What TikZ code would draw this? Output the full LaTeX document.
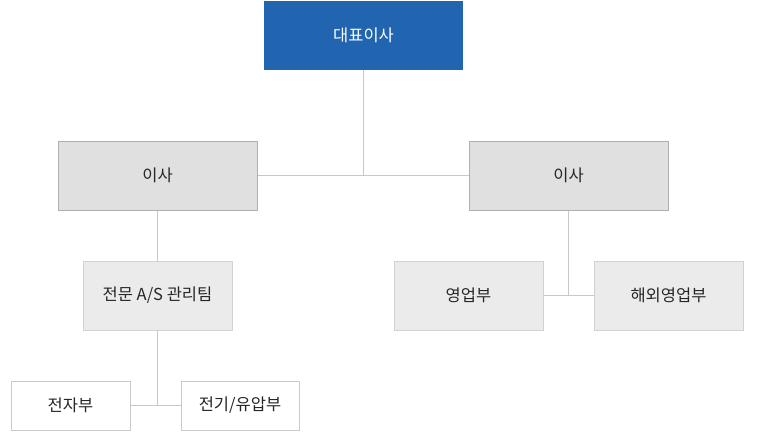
\documentclass[tikz,border=0pt]{standalone}
\usepackage{fontspec}
\setmainfont{Noto Sans CJK KR}
\definecolor{ceoblue}{HTML}{2165B1}
\definecolor{dirfill}{HTML}{E0E0E0}
\definecolor{dirline}{HTML}{B0B0B0}
\definecolor{teamfill}{HTML}{EBEBEB}
\definecolor{teamline}{HTML}{D2D2D2}
\definecolor{partline}{HTML}{CACACA}
\definecolor{linkgray}{HTML}{C8C8C8}
\begin{document}
\begin{tikzpicture}[
		x=1pt,y=-1pt,
		every node/.style={rectangle,inner sep=0pt,text=black!85,font=\fontsize{16.5}{19}\selectfont},
		ceobox/.style={fill=ceoblue,text=white,minimum width=199pt,minimum height=69pt},
		dirbox/.style={draw=dirline,fill=dirfill,line width=1pt,minimum width=199pt,minimum height=69pt},
		teambox/.style={draw=teamline,fill=teamfill,line width=1pt,minimum width=149pt,minimum height=69pt},
		partbox/.style={draw=partline,fill=white,line width=1pt,minimum height=49pt},
		link/.style={draw=linkgray,line width=1pt}
		]
		\useasboundingbox (0,0) rectangle (770,431);
		% nodes
		\node[ceobox] (ceo) at (363.5,35.5) {대표이사};
		\node[dirbox] (dirL) at (157.5,175.5) {이사};
		\node[dirbox] (dirR) at (568.5,175.5) {이사};
		\node[teambox] (as) at (157.5,295.5) {전문 A/S 관리팀};
		\node[teambox] (sales) at (468.5,295.5) {영업부};
		\node[teambox] (overseas) at (668.5,295.5) {해외영업부};
		\node[partbox,minimum width=119pt] (elec) at (70.5,405.5) {전자부};
		\node[partbox,minimum width=118pt] (hyd) at (240,405.5) {전기/유압부};
		% links
		\path[link] (dirL.east) -- (dirR.west);
		\path[link] (ceo.south) -- (ceo.south |- dirL.east);
		\path[link] (dirL.south) -- (as.north);
		\path[link] (as.south) -- (as.south |- elec.east);
		\path[link] (elec.east) -- (hyd.west);
		\path[link] (dirR.south) -- (dirR.south |- sales.east);
		\path[link] (sales.east) -- (overseas.west);
\end{tikzpicture}
\end{document}
